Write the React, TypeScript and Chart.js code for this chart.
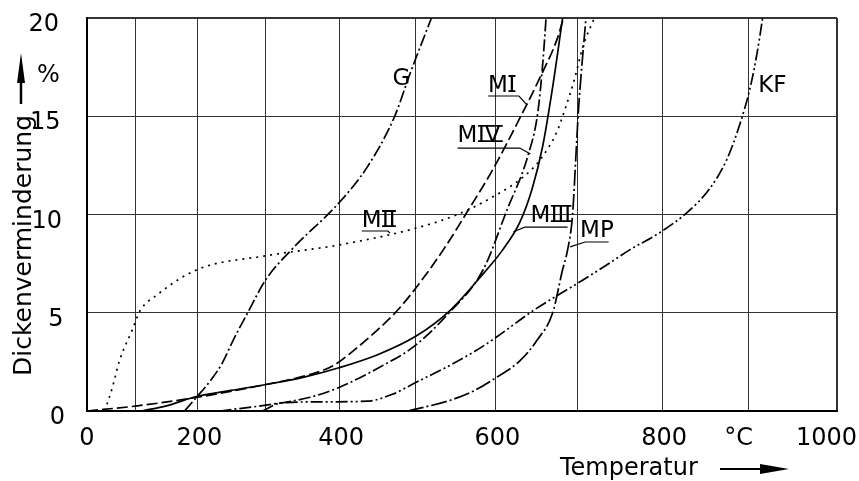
import React, { useEffect, useRef } from 'react';
import { Chart, registerables, LinearScale } from 'chart.js';

Chart.register(...registerables);

// ---------- data ----------
const X_TICK_VALUES = [0, 200, 400, 600, 800, 900, 1000];
const X_TICK_LABELS = ['0', '200', '400', '600', '800', '°C', '1000'];
const Y_TICK_VALUES = [0, 5, 10, 15, 20];
const Y_TICK_LABELS = ['0', '5', '10', '15', '20'];

const G_TEMP = [180, 196, 223, 238, 253, 274, 300, 338, 400, 437, 473, 493, 520];
const G_VAL = [0, 0.6, 1.7, 2.5, 3.6, 5, 6.7, 8.3, 10.6, 12.4, 15, 17.2, 20];

const MII_TEMP = [43, 57, 72, 94, 108, 136, 200, 300, 400, 496, 553, 597, 634, 655, 675, 686, 697, 706, 720];
const MII_VAL = [0, 1.1, 2.6, 4.1, 5.1, 5.9, 7.2, 7.9, 8.45, 9.26, 10, 10.9, 11.9, 12.8, 14.2, 15.5, 17, 18.5, 20];

const MI_TEMP = [0, 100, 200, 300, 350, 392, 420, 450, 476, 499, 535, 566, 597, 630, 655, 676, 683];
const MI_VAL = [0, 0.25, 0.7, 1.35, 1.75, 2.3, 3.1, 4.1, 5.1, 6.2, 8.2, 10.2, 12.3, 14.9, 17, 19, 20];

const MIII_TEMP = [110, 150, 200, 250, 300, 350, 400, 450, 500, 543, 581, 609, 630, 645, 658, 670, 682];
const MIII_VAL = [0, 0.25, 0.75, 1.05, 1.35, 1.7, 2.2, 2.85, 3.8, 5.1, 6.8, 8.2, 9.6, 11.3, 13.5, 16.5, 20];

const MIV_TEMP = [233, 300, 361, 400, 454, 497, 540, 585, 614, 640, 652, 658, 662];
const MIV_VAL = [0, 0.3, 0.7, 1.2, 2.24, 3.26, 4.9, 7.2, 10.2, 13.0, 15.2, 17.7, 20];

const MP_TEMP = [490, 540, 568, 601, 630, 651, 670, 682, 688, 694, 698, 701, 704, 710];
const MP_VAL = [0, 0.5, 0.92, 1.7, 2.55, 3.6, 5, 7.2, 8.2, 10, 13, 15.3, 17, 20];

const KF_TEMP = [295, 320, 360, 437, 470, 500, 540, 575, 601, 646, 700, 730, 762, 798, 829, 855, 875, 890, 902, 910, 916];
const KF_VAL = [0, 0.4, 0.46, 0.5, 0.85, 1.45, 2.25, 3.05, 3.75, 5.1, 6.5, 7.3, 8.2, 9.1, 10.1, 11.3, 12.8, 14.6, 16.5, 18.3, 20];

// ---------- curve labels (data coordinates) ----------
const CURVE_LABELS = [
  { prefix: 'G', numeral: '', at: [470, 16.6], leader: [] as number[][] },
  { prefix: 'KF', numeral: '', at: [911, 16.23], leader: [] as number[][] },
  { prefix: 'M', numeral: 'I', at: [591, 16.23], leader: [[591, 16.03], [629, 16.03], [639, 15.57]] },
  { prefix: 'M', numeral: 'IV', at: [553, 13.69], leader: [[553, 13.38], [630, 13.38], [643, 13.08]] },
  { prefix: 'M', numeral: 'II', at: [430, 9.36], leader: [[430, 9.16], [464, 9.16], [467, 9.06]] },
  { prefix: 'M', numeral: 'III', at: [643, 9.62], leader: [[688, 9.36], [636, 9.36], [622, 9.11]] },
  { prefix: 'MP', numeral: '', at: [703, 8.85], leader: [[737, 8.6], [709, 8.6], [691, 8.35]] },
];

const FONT = '"DejaVu Sans", sans-serif';
const X_EXP = 1.19;

class PowerScale extends LinearScale {
  static id = 'power';
  static defaults = LinearScale.defaults;
  getPixelForValue(value: any) {
    if (value === null || value === undefined || isNaN(value)) return NaN;
    const t = (value - this.min) / (this.max - this.min);
    const d = t <= 0 ? t : Math.pow(t, X_EXP);
    return this.getPixelForDecimal(d);
  }
  getValueForPixel(pixel: number) {
    const d = this.getDecimalForPixel(pixel);
    return this.min + (d <= 0 ? d : Math.pow(d, 1 / X_EXP)) * (this.max - this.min);
  }
}
Chart.register(PowerScale as any);

function series(label: string, temps: number[], vals: number[], dash: number[]) {
  return {
    label,
    data: temps.map((t, i) => ({ x: t, y: vals[i] })),
    borderColor: '#000',
    borderWidth: 1.7,
    borderDash: dash,
    pointRadius: 0,
    fill: false,
    cubicInterpolationMode: 'monotone' as const,
  };
}

const textPlugin = {
  id: 'textPlugin',
  afterDraw(chart: any) {
    const { ctx, scales } = chart;
    const xs = scales.x;
    const ys = scales.y;
    const W = chart.width;
    ctx.save();
    ctx.fillStyle = '#000';
    ctx.strokeStyle = '#000';
    ctx.font = `24px ${FONT}`;

    // x tick labels
    ctx.textBaseline = 'alphabetic';
    ctx.textAlign = 'left';
    X_TICK_VALUES.forEach((v, i) => {
      const label = X_TICK_LABELS[i];
      const w = ctx.measureText(label).width;
      let cx = xs.getPixelForValue(v) + (label === '°C' ? -10 : 2);
      if (i === 0) cx = xs.getPixelForValue(v);
      let left = cx - w / 2;
      if (left + w > W - 2) left = W - 2 - w;
      ctx.fillText(label, left, ys.bottom + 34);
    });

    // y tick labels
    ctx.textAlign = 'right';
    Y_TICK_VALUES.forEach((v, i) => {
      const py = ys.getPixelForValue(v);
      ctx.fillText(Y_TICK_LABELS[i], xs.left - 28 + (20 - v) * 0.3, py + 13);
    });

    // y title
    ctx.save();
    ctx.font = `25px ${FONT}`;
    ctx.translate(31, (ys.top + ys.bottom) / 2 + 31);
    ctx.rotate(-Math.PI / 2);
    ctx.textAlign = 'center';
    ctx.fillText('Dickenverminderung', 0, 0);
    ctx.restore();

    // % and arrow
    ctx.textAlign = 'left';
    ctx.fillText('%', 37, 82);
    ctx.lineWidth = 2.5;
    ctx.beginPath();
    ctx.moveTo(21, 104);
    ctx.lineTo(21, 78);
    ctx.stroke();
    ctx.beginPath();
    ctx.moveTo(21, 53);
    ctx.lineTo(25, 83);
    ctx.lineTo(17, 83);
    ctx.closePath();
    ctx.fill();

    // x title and arrow
    ctx.fillText('Temperatur', 560, 475);
    ctx.lineWidth = 2;
    ctx.beginPath();
    ctx.moveTo(720, 469);
    ctx.lineTo(765, 469);
    ctx.stroke();
    ctx.beginPath();
    ctx.moveTo(789, 469);
    ctx.lineTo(760, 464);
    ctx.lineTo(760, 474);
    ctx.closePath();
    ctx.fill();

    // curve labels
    ctx.font = `23px ${FONT}`;
    ctx.textAlign = 'left';
    CURVE_LABELS.forEach((lab) => {
      const px = xs.getPixelForValue(lab.at[0]);
      const py = ys.getPixelForValue(lab.at[1]);
      ctx.fillText(lab.prefix, px, py);
      if (lab.numeral) {
        const nx = px + ctx.measureText(lab.prefix).width + 0.5;
        ctx.fillText(lab.numeral, nx, py);
        const m = ctx.measureText(lab.numeral);
        const l = nx - m.actualBoundingBoxLeft - 2;
        const r = nx + m.actualBoundingBoxRight + 2;
        const top = py - m.actualBoundingBoxAscent;
        ctx.lineWidth = 1.8;
        ctx.beginPath();
        ctx.moveTo(l, top + 0.9);
        ctx.lineTo(r, top + 0.9);
        ctx.moveTo(l, py - 0.9);
        ctx.lineTo(r, py - 0.9);
        ctx.stroke();
      }
      if (lab.leader.length) {
        ctx.lineWidth = 1.2;
        ctx.beginPath();
        lab.leader.forEach((p, k) => {
          const lx = xs.getPixelForValue(p[0]);
          const ly = ys.getPixelForValue(p[1]);
          if (k === 0) ctx.moveTo(lx, ly);
          else ctx.lineTo(lx, ly);
        });
        ctx.stroke();
      }
    });
    ctx.restore();
  },
};

export default function App() {
  const ref = useRef<HTMLCanvasElement | null>(null);
  useEffect(() => {
    if (!ref.current) return;
    const chart = new Chart(ref.current, {
      type: 'line',
      data: {
        datasets: [
          series('G', G_TEMP, G_VAL, [12, 3, 2, 3]),
          series('MII', MII_TEMP, MII_VAL, [2, 5]),
          series('MI', MI_TEMP, MI_VAL, [11, 4]),
          series('MIII', MIII_TEMP, MIII_VAL, []),
          series('MIV', MIV_TEMP, MIV_VAL, [12, 3, 2, 3]),
          series('MP', MP_TEMP, MP_VAL, [16, 3, 2, 3]),
          series('KF', KF_TEMP, KF_VAL, [12, 3, 2, 3, 2, 3]),
        ] as any,
      },
      options: {
        responsive: true,
        maintainAspectRatio: false,
        animation: false,
        layout: { padding: { left: 87, top: 18, right: 22, bottom: 70 } },
        plugins: { legend: { display: false }, tooltip: { enabled: false } },
        scales: {
          x: {
            type: 'power' as any,
            min: 0,
            max: 1000,
            ticks: { stepSize: 100, display: false },
            grid: {
              color: '#333',
              lineWidth: (c: any) => (c.tick && c.tick.value === 1000 ? 2 : 1),
              drawTicks: false,
            },
            border: { color: '#000', width: 2 },
            afterFit: (s: any) => { s.height = 0; },
          },
          y: {
            type: 'linear',
            min: 0,
            max: 20,
            ticks: { stepSize: 5, display: false },
            grid: {
              color: '#333',
              lineWidth: (c: any) => (c.tick && c.tick.value === 20 ? 2 : 1),
              drawTicks: false,
            },
            border: { color: '#000', width: 2 },
            afterFit: (s: any) => { s.width = 0; },
          },
        } as any,
      },
      plugins: [textPlugin],
    });
    return () => chart.destroy();
  }, []);
  return (
    <div style={{ position: 'absolute', left: 0, top: 0, width: 859, height: 481, background: '#fff' }}>
      <canvas ref={ref} />
    </div>
  );
}
